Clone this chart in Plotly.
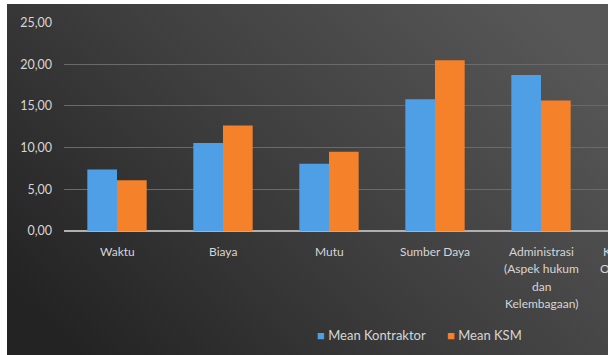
import base64
import plotly.graph_objects as go

categories = ["Waktu", "Biaya", "Mutu", "Sumber Daya",
              "Administrasi\n(Aspek hukum\ndan\nKelembagaan)",
              "Keselamatan dan\nOrganisasi Proyek"]
mean_kontraktor = [7.38, 10.55, 8.05, 15.8, 18.7, None]
mean_ksm = [6.08, 12.65, 9.5, 20.48, 15.65, None]
series_names = ["Mean Kontraktor", "Mean KSM"]
y_ticks = [0, 5, 10, 15, 20, 25]

W, H = 608, 355
L, T, B = 64, 22, 124
plot_w = W - L
plot_h = H - T - B
x_hi = (W - L) / 106.0 - 0.5
x_span = x_hi + 0.5

BLUE = "#4f9fe6"
ORANGE = "#f5812b"
TXT = "#d6d6d6"
FONT = "Lato"

fig = go.Figure()
fig.add_trace(go.Bar(x=list(range(len(categories))), y=mean_kontraktor,
                     name=series_names[0], marker=dict(color=BLUE, line=dict(width=0))))
fig.add_trace(go.Bar(x=list(range(len(categories))), y=mean_ksm,
                     name=series_names[1], marker=dict(color=ORANGE, line=dict(width=0))))

# background gradient
svg = ('<svg xmlns="http://www.w3.org/2000/svg" width="601" height="351" '
       'preserveAspectRatio="none" viewBox="0 0 601 351">'
       '<defs><linearGradient id="g" x1="0" y1="0.8" x2="1" y2="0.2">'
       '<stop offset="0" stop-color="#232323"/>'
       '<stop offset="0.5" stop-color="#3f3f3f"/>'
       '<stop offset="1" stop-color="#575757"/>'
       '</linearGradient></defs>'
       '<rect width="601" height="351" fill="url(#g)"/></svg>')
src = "data:image/svg+xml;base64," + base64.b64encode(svg.encode()).decode()

def px_to_paper_x(px):
    return (px - L) / plot_w

def px_to_paper_y(py):
    return (T + plot_h - py) / plot_h

annotations = []
# category labels, one annotation per line
line_y = [251.5, 268.7, 286.0, 303.3]
for i, cat in enumerate(categories):
    xp = (i + 0.5) / x_span
    for j, line in enumerate(cat.split("\n")):
        annotations.append(dict(
            x=xp, y=px_to_paper_y(line_y[j]), xref="paper", yref="paper",
            text=line, showarrow=False, xanchor="center", yanchor="middle",
            font=dict(family=FONT, size=12, color=TXT)))

# legend
legend_x = [315, 445]
for name, col, lx in zip(series_names, [BLUE, ORANGE], legend_x):
    annotations.append(dict(
        x=px_to_paper_x(lx), y=px_to_paper_y(335), xref="paper", yref="paper",
        text=f'<span style="color:{col}">■</span> {name}', showarrow=False,
        xanchor="left", yanchor="middle",
        font=dict(family=FONT, size=13, color=TXT)))

fig.update_layout(
    width=W, height=H,
    margin=dict(l=L, r=0, t=T, b=B, pad=0),
    paper_bgcolor="white",
    plot_bgcolor="rgba(0,0,0,0)",
    barmode="group", bargap=0.44, bargroupgap=0,
    showlegend=False,
    separators=",.",
    images=[dict(source=src, xref="paper", yref="paper",
                 x=px_to_paper_x(7), y=px_to_paper_y(4),
                 sizex=(W - 7) / plot_w, sizey=(H - 4) / plot_h,
                 xanchor="left", yanchor="top", sizing="stretch", layer="below")],
    annotations=annotations,
    xaxis=dict(range=[-0.5, x_hi], showticklabels=False, showgrid=False,
               zeroline=False, showline=False, ticks=""),
    yaxis=dict(range=[0, 25.05], tickvals=y_ticks, tickformat=".2f",
               showgrid=True, gridcolor="#6a6a6a", gridwidth=1,
               zeroline=True, zerolinecolor="#b0b0b0", zerolinewidth=1.5,
               ticks="", ticklabelstandoff=11,
               tickfont=dict(family=FONT, size=12.5, color=TXT)),
)

fig.write_html("out.html")
